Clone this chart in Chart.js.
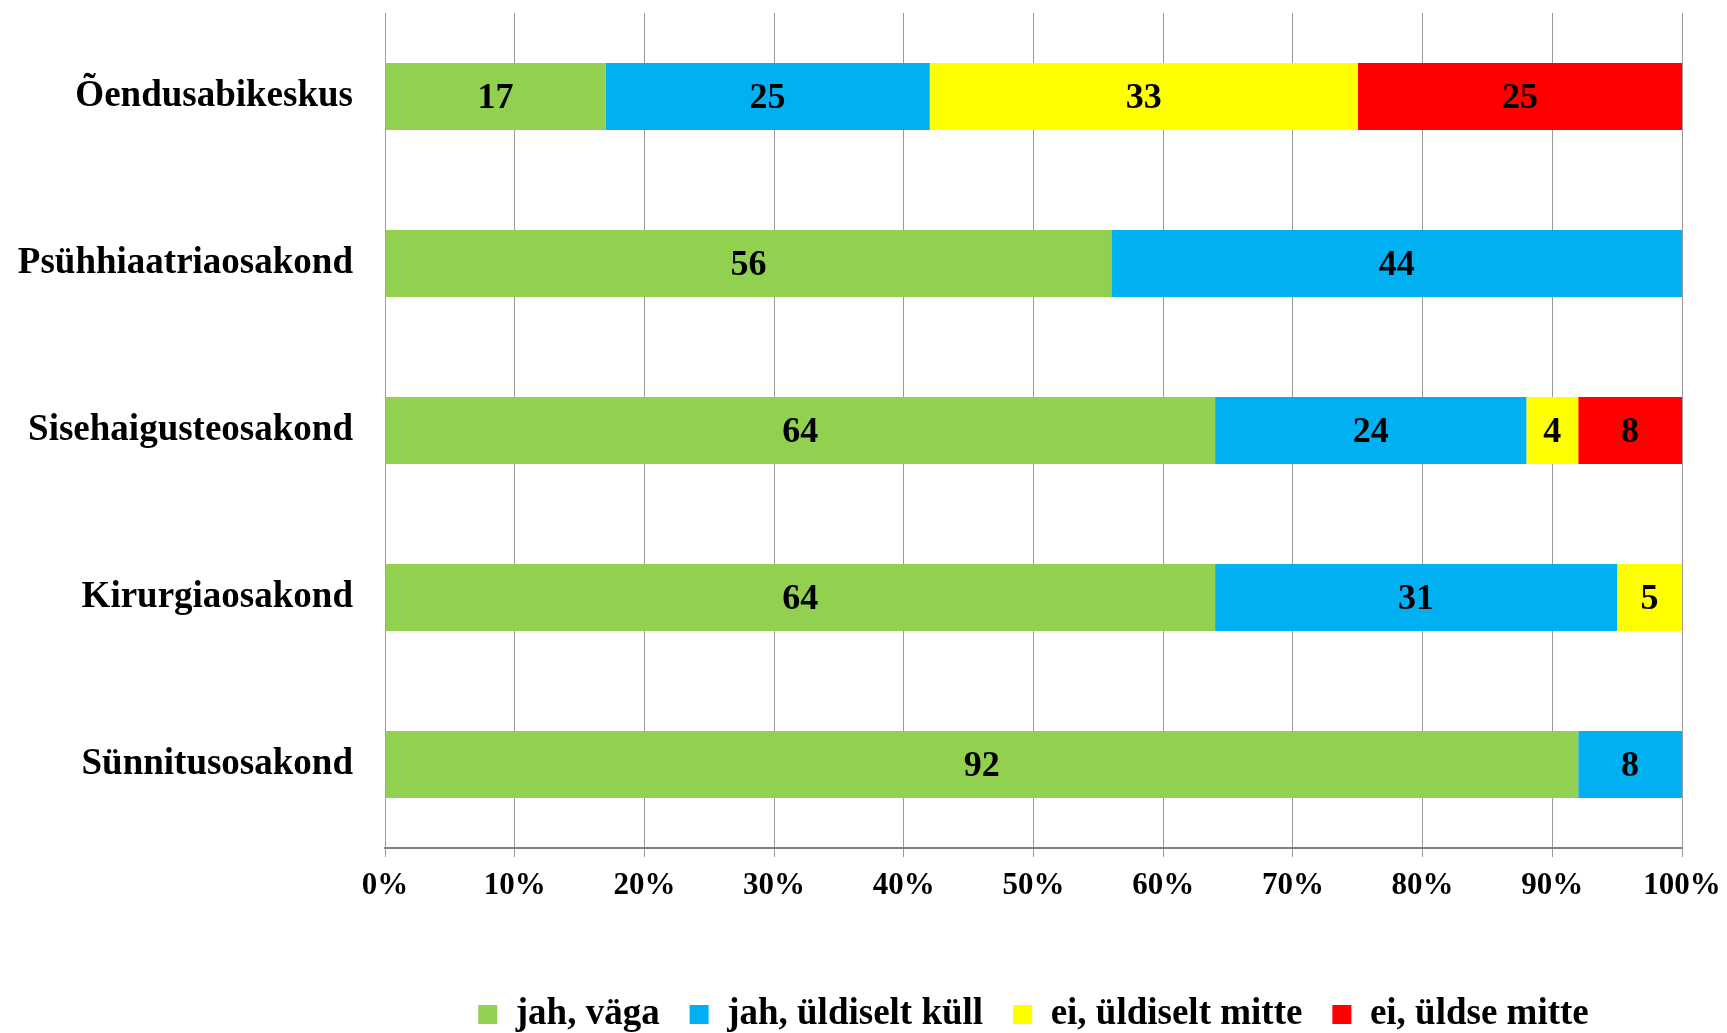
<!DOCTYPE html>
<html>
<head>
<meta charset="utf-8">
<script src="https://cdn.jsdelivr.net/npm/chart.js@4/dist/chart.umd.min.js"></script>
<style>
  html, body { margin: 0; padding: 0; background: #fff; }
  #wrap { width: 1727px; height: 1033px; }
</style>
</head>
<body>
<div id="wrap"><canvas id="chart" width="1727" height="1033"></canvas></div>
<script>
const categories = [
  "Õendusabikeskus",
  "Psühhiaatriaosakond",
  "Sisehaigusteosakond",
  "Kirurgiaosakond",
  "Sünnitusosakond",
];
const seriesNames = ["jah, väga", "jah, üldiselt küll", "ei, üldiselt mitte", "ei, üldse mitte"];
const jahVaga = [17, 56, 64, 64, 92];
const jahKull = [25, 44, 24, 31, 8];
const eiMitte = [33, 0, 4, 5, 0];
const eiUldse = [25, 0, 8, 0, 0];
const seriesColors = ["#92D050", "#00B0F0", "#FFFF00", "#FF0000"];
const xTicks = [0, 10, 20, 30, 40, 50, 60, 70, 80, 90, 100];

const FONT = "'Liberation Serif', 'Times New Roman', serif";
Chart.defaults.font.family = FONT;
Chart.defaults.font.weight = "bold";
Chart.defaults.color = "#000";

const LEGEND_H = 67;

// value labels in the middle of each segment, zero segments skipped
const segmentLabels = {
  id: "segmentLabels",
  afterDatasetsDraw(chart) {
    const ctx = chart.ctx;
    ctx.save();
    ctx.font = "bold 36px " + FONT;
    ctx.fillStyle = "#000";
    ctx.textAlign = "center";
    ctx.textBaseline = "middle";
    chart.data.datasets.forEach((ds, i) => {
      const meta = chart.getDatasetMeta(i);
      meta.data.forEach((bar, j) => {
        const v = ds.data[j];
        if (!v) return;
        ctx.fillText(String(v), (bar.x + bar.base) / 2, bar.y + 2);
      });
    });
    ctx.restore();
  },
};

// keep the legend box at a fixed height so the plot area lands where it should
const legendHeight = {
  id: "legendHeight",
  beforeLayout(chart) {
    const lg = chart.legend;
    if (!lg || lg._fixedFit) return;
    const orig = lg.fit;
    lg.fit = function () {
      orig.call(this);
      this.height = LEGEND_H;
    };
    lg._fixedFit = true;
  },
};

const allSeries = [jahVaga, jahKull, eiMitte, eiUldse];

new Chart(document.getElementById("chart"), {
  type: "bar",
  data: {
    labels: categories,
    datasets: allSeries.map((vals, i) => ({
      label: seriesNames[i],
      data: vals,
      backgroundColor: seriesColors[i],
      borderWidth: 0,
      categoryPercentage: 1.0,
      barPercentage: 0.4,
    })),
  },
  options: {
    indexAxis: "y",
    responsive: false,
    animation: false,
    layout: { padding: { top: 13, right: 45, bottom: 0, left: 0 } },
    scales: {
      x: {
        stacked: true,
        min: 0,
        max: 100,
        afterBuildTicks: (scale) => {
          scale.ticks = xTicks.map((v) => ({ value: v }));
        },
        afterFit: (scale) => {
          scale.height = 118;
          scale.paddingLeft = 0;
          scale.paddingRight = 0;
        },
        ticks: {
          callback: (v) => v + "%",
          font: { size: 31, weight: "bold" },
          padding: 10,
          maxRotation: 0,
        },
        grid: { color: "#9a9a9a", lineWidth: 1, tickLength: 9, drawTicks: true },
        border: { color: "#808080", width: 2 },
      },
      y: {
        stacked: true,
        afterFit: (scale) => {
          scale.width = 385;
          scale.paddingTop = 0;
          scale.paddingBottom = 0;
        },
        ticks: { font: { size: 37, weight: "bold" }, padding: 32 },
        grid: { display: false, drawTicks: false },
        border: { color: "#9a9a9a", width: 1 },
      },
    },
    plugins: {
      legend: {
        position: "bottom",
        fullSize: false,
        labels: {
          boxWidth: 19,
          boxHeight: 19,
          padding: 30,
          font: { size: 37, weight: "bold" },
        },
      },
      tooltip: { enabled: false },
    },
  },
  plugins: [segmentLabels, legendHeight],
});
</script>
</body>
</html>
